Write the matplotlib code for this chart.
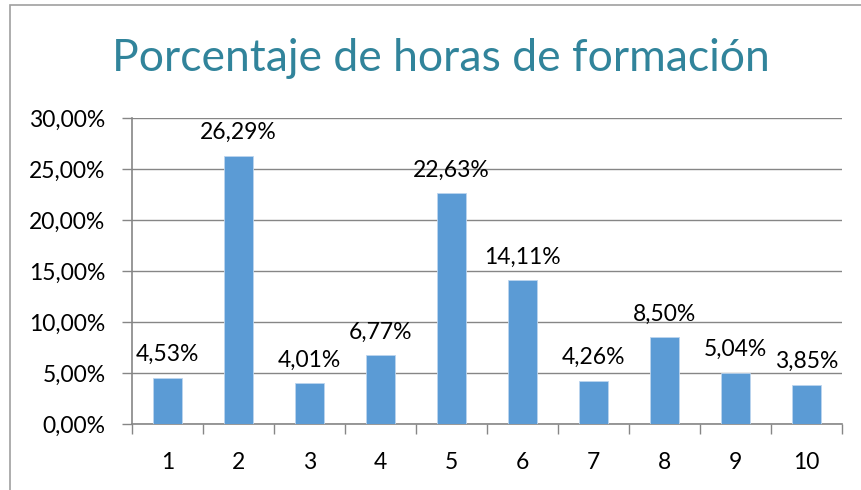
import matplotlib.pyplot as plt
from matplotlib.patches import Rectangle
from matplotlib.ticker import FuncFormatter, FixedLocator

# Data
categories = [1, 2, 3, 4, 5, 6, 7, 8, 9, 10]
percentages = [4.53, 26.29, 4.01, 6.77, 22.63, 14.11, 4.26, 8.50, 5.04, 3.85]
y_ticks = [0, 5, 10, 15, 20, 25, 30]

title = 'Porcentaje de horas de formación'

plt.rcParams['font.family'] = ['Lato', 'DejaVu Sans']

bar_color = '#5B9BD5'
axis_gray = '#868686'
title_color = '#31849B'


def pct(v):
    return f'{v:.2f}%'.replace('.', ',')


fig = plt.figure(figsize=(8.61, 4.90), dpi=100)
ax = fig.add_axes([132 / 861, 1 - 424 / 490, 710 / 861, 306 / 490])

bars = ax.bar(categories, percentages, width=0.41, color=bar_color,
              edgecolor='#BCD5EE', linewidth=0.6, zorder=3)

for bar, v in zip(bars, percentages):
    ax.annotate(pct(v),
                xy=(bar.get_x() + bar.get_width() / 2, bar.get_height()),
                xytext=(0, 9), textcoords='offset points',
                ha='center', va='bottom', fontsize=16.5, color='black')

# axes styling
ax.set_xlim(0.5, 10.5)
ax.set_ylim(0, 30)
ax.set_yticks(y_ticks)
ax.yaxis.set_major_formatter(FuncFormatter(lambda v, p: pct(v)))
ax.set_xticks(categories)
ax.set_xticklabels([str(c) for c in categories])
ax.xaxis.set_minor_locator(FixedLocator([c + 0.5 for c in [0] + categories]))

ax.tick_params(axis='x', which='major', length=0, pad=20, labelsize=16.5)
ax.tick_params(axis='x', which='minor', length=7, width=1, color=axis_gray)
ax.tick_params(axis='y', length=7, width=1, color=axis_gray, pad=12, labelsize=16.5)

ax.yaxis.grid(True, color=axis_gray, linewidth=1)
ax.set_axisbelow(True)

for side in ['top', 'right']:
    ax.spines[side].set_visible(False)
for side in ['left', 'bottom']:
    ax.spines[side].set_color(axis_gray)
    ax.spines[side].set_linewidth(1.2)

fig.text(440.5 / 861, 1 - 71 / 490, title, ha='center', va='baseline',
         fontsize=32, color=title_color)

# chart frame (cut off on right and bottom)
fig.patches.append(Rectangle((10 / 861, -0.1), 1.2, 1 - 5 / 490 + 0.1,
                             transform=fig.transFigure, fill=False,
                             edgecolor='#A0A0A0', linewidth=1.2))

plt.savefig('out.png', dpi=100)
